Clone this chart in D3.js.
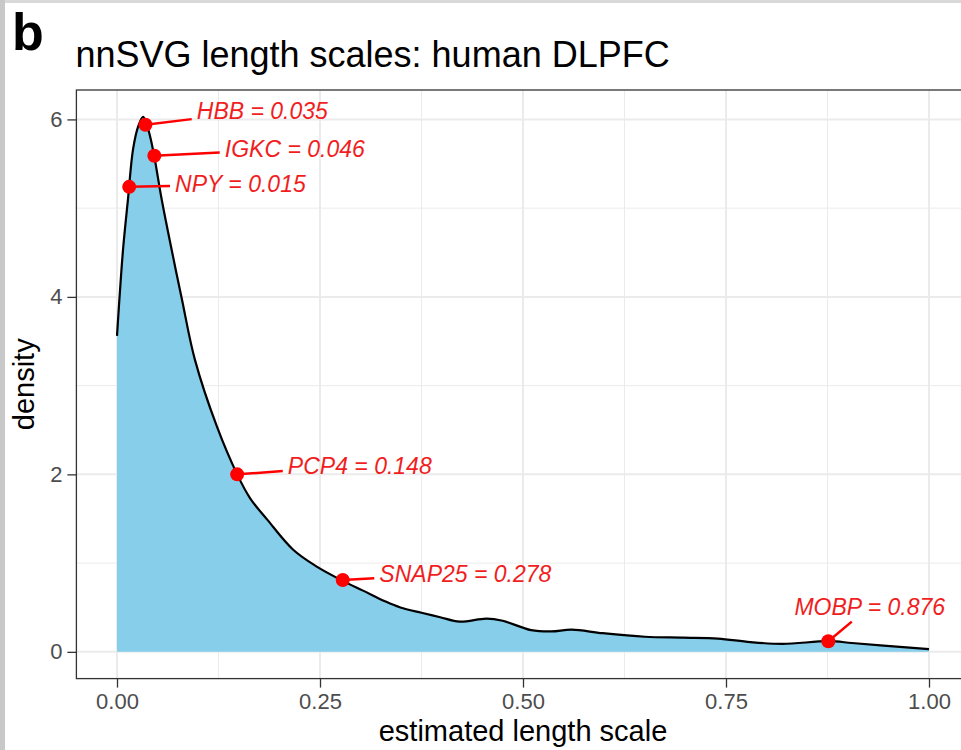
<!DOCTYPE html>
<html lang="en">
<head>
<meta charset="UTF-8">
<title>nnSVG length scales</title>
<script src="https://d3js.org/d3.v7.min.js"></script>
<style>
  body { margin: 0; background: #fff; }
  text { font-family: "Liberation Sans", Arial, Helvetica, sans-serif; }
</style>
</head>
<body>
<script>
    // density curve
    var lengthScale = [0.000, 0.0074, 0.0135, 0.0197, 0.026, 0.032, 0.036, 0.041, 0.046, 0.055,
        0.068, 0.080, 0.096, 0.123, 0.148, 0.164, 0.185, 0.217, 0.246,
        0.278, 0.303, 0.330, 0.349, 0.375, 0.398, 0.422, 0.455, 0.475, 0.510,
        0.535, 0.560, 0.598, 0.650, 0.697, 0.740, 0.780, 0.820, 0.876, 0.905,
        0.944, 1.000];
    var density = [3.56, 4.53, 5.10, 5.66, 5.92, 6.03, 5.96, 5.80, 5.58, 5.10,
        4.50, 3.97, 3.29, 2.54, 2.00, 1.73, 1.49, 1.15, 0.96,
        0.80, 0.69, 0.57, 0.50, 0.44, 0.39, 0.34, 0.375, 0.35, 0.245,
        0.23, 0.25, 0.21, 0.17, 0.16, 0.15, 0.11, 0.09, 0.12, 0.10,
        0.07, 0.03];

    // highlighted genes
    var genes = ["HBB", "IGKC", "NPY", "PCP4", "SNAP25", "MOBP"];
    var geneScale = [0.035, 0.046, 0.015, 0.148, 0.278, 0.876];
    var geneDensity = [5.94, 5.59, 5.24, 2.00, 0.81, 0.12];
    // label centres (repelled positions), in data units
    var labelX = [0.179, 0.219, 0.152, 0.299, 0.429, 0.927];
    var labelY = [6.10, 5.67, 5.27, 2.10, 0.88, 0.51];

    var xTicks = [0, 0.25, 0.5, 0.75, 1];
    var yTicks = [0, 2, 4, 6];

    var width = 961, height = 750;
    var pLeft = 76.4, pRight = 969.6, pTop = 90, pBottom = 678.6;

    var ymax = d3.max(density);
    var x = d3.scaleLinear().domain([-0.05, 1.05]).range([pLeft, pRight]);
    var y = d3.scaleLinear().domain([-0.05 * ymax, 1.05 * ymax]).range([pBottom, pTop]);

    var svg = d3.select("body").append("svg")
        .attr("width", width)
        .attr("height", height);

    // screenshot frame
    svg.append("rect").attr("x", 0).attr("y", 0).attr("width", width).attr("height", 3).attr("fill", "#d9d9d9");
    svg.append("rect").attr("x", 0).attr("y", 0).attr("width", 5).attr("height", height).attr("fill", "#c8c8c8");

    svg.append("text")
        .attr("x", 12).attr("y", 50)
        .style("font-size", "52px").style("font-weight", "bold")
        .text("b");

    svg.append("text")
        .attr("x", pLeft - 1).attr("y", 67)
        .style("font-size", "36px").attr("fill", "#000")
        .text("nnSVG length scales: human DLPFC");

    // grid
    var g = svg.append("g");
    var xMinor = xTicks.slice(1).map(function (t, i) { return (t + xTicks[i]) / 2; });
    var yMinor = yTicks.slice(1).map(function (t, i) { return (t + yTicks[i]) / 2; });
    g.selectAll("line.xminor").data(xMinor).enter().append("line")
        .attr("x1", d => x(d)).attr("x2", d => x(d)).attr("y1", pTop).attr("y2", pBottom)
        .attr("stroke", "#ebebeb").attr("stroke-width", 1);
    g.selectAll("line.yminor").data(yMinor).enter().append("line")
        .attr("y1", d => y(d)).attr("y2", d => y(d)).attr("x1", pLeft).attr("x2", pRight)
        .attr("stroke", "#ebebeb").attr("stroke-width", 1);
    g.selectAll("line.xmajor").data(xTicks).enter().append("line")
        .attr("x1", d => x(d)).attr("x2", d => x(d)).attr("y1", pTop).attr("y2", pBottom)
        .attr("stroke", "#ebebeb").attr("stroke-width", 2);
    g.selectAll("line.ymajor").data(yTicks).enter().append("line")
        .attr("y1", d => y(d)).attr("y2", d => y(d)).attr("x1", pLeft).attr("x2", pRight)
        .attr("stroke", "#ebebeb").attr("stroke-width", 2);

    var pts = lengthScale.map(function (v, i) { return [v, density[i]]; });

    var area = d3.area()
        .x(d => x(d[0])).y0(y(0)).y1(d => y(d[1]))
        .curve(d3.curveCatmullRom.alpha(0.5));
    var line = d3.line()
        .x(d => x(d[0])).y(d => y(d[1]))
        .curve(d3.curveCatmullRom.alpha(0.5));

    svg.append("path").datum(pts).attr("d", area).attr("fill", "#87ceeb");
    svg.append("path").datum(pts).attr("d", line)
        .attr("fill", "none").attr("stroke", "#000").attr("stroke-width", 2.2);

    // panel border
    svg.append("rect")
        .attr("x", pLeft).attr("y", pTop)
        .attr("width", pRight - pLeft).attr("height", pBottom - pTop)
        .attr("fill", "none").attr("stroke", "#333").attr("stroke-width", 1.3);

    // axes
    var xAxis = svg.append("g")
        .attr("transform", "translate(0," + pBottom + ")")
        .call(d3.axisBottom(x).tickValues(xTicks).tickFormat(d3.format(".2f")).tickSize(9).tickPadding(6));
    var yAxis = svg.append("g")
        .attr("transform", "translate(" + pLeft + ",0)")
        .call(d3.axisLeft(y).tickValues(yTicks).tickFormat(d3.format("d")).tickSize(9).tickPadding(5));
    [xAxis, yAxis].forEach(function (a) {
        a.select(".domain").remove();
        a.selectAll(".tick line").attr("stroke", "#333").attr("stroke-width", 1.3);
        a.selectAll(".tick text").attr("fill", "#4d4d4d")
            .style("font-size", "22px").style("font-family", "'Liberation Sans', Arial, sans-serif");
    });

    svg.append("text")
        .attr("x", (pLeft + pRight) / 2).attr("y", 741)
        .attr("text-anchor", "middle").style("font-size", "29px")
        .text("estimated length scale");
    svg.append("text")
        .attr("transform", "translate(34," + (pTop + pBottom) / 2 + ") rotate(-90)")
        .attr("text-anchor", "middle").style("font-size", "29px")
        .text("density");

    // labels with segments
    var lab = svg.append("g");
    genes.forEach(function (name, i) {
        var px = x(geneScale[i]), py = y(geneDensity[i]);
        var cx = x(labelX[i]), cy = y(labelY[i]);
        var t = lab.append("text")
            .attr("x", cx).attr("y", cy)
            .attr("dy", "0.35em").attr("text-anchor", "middle")
            .attr("fill", "#f01e1e")
            .style("font-size", "23px").style("font-style", "italic")
            .text(name + " = " + geneScale[i].toFixed(3));
        var bb = t.node().getBBox();
        var pad = 5;
        var hw = bb.width / 2 + pad, hh = bb.height / 2 + pad * 0.4;
        var dx = px - cx, dy = py - cy;
        var s = Math.min(Math.abs(dx) > 0 ? hw / Math.abs(dx) : Infinity,
            Math.abs(dy) > 0 ? hh / Math.abs(dy) : Infinity);
        var ex = cx + dx * s, ey = cy + dy * s;
        lab.insert("line", "text")
            .attr("x1", px).attr("y1", py).attr("x2", ex).attr("y2", ey)
            .attr("stroke", "red").attr("stroke-width", 2.5);
        svg.append("circle")
            .attr("cx", px).attr("cy", py).attr("r", 7)
            .attr("fill", "red");
    });
</script>
</body>
</html>
